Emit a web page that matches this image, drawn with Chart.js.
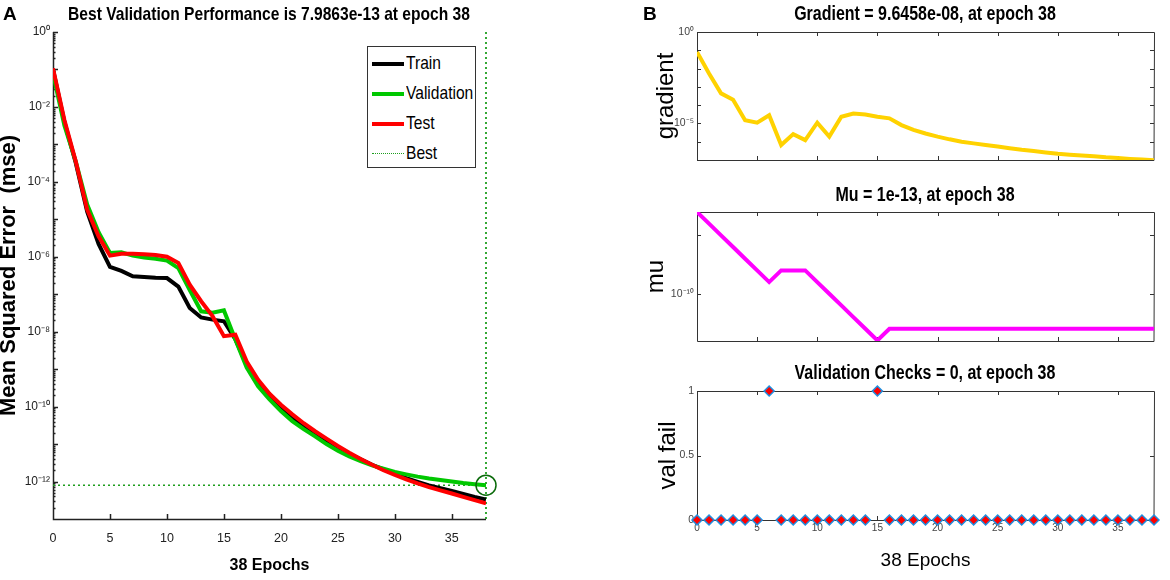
<!DOCTYPE html>
<html>
<head>
<meta charset="utf-8">
<script src="https://cdn.jsdelivr.net/npm/chart.js@4.4.1/dist/chart.umd.min.js"></script>
<style>
  body { margin: 0; background: #fff; }
  #wrap { position: relative; width: 1170px; height: 580px; overflow: hidden; }
  canvas { position: absolute; }
  .tag { position: absolute; font: bold 19px 'Liberation Sans', Arial, sans-serif; color: #000; }
  .ttl { position: absolute; white-space: nowrap; font-family: 'Liberation Sans', Arial, sans-serif; font-weight: bold;
         color: #000; transform: translateX(-50%) scaleX(0.82); }
  #legend { position: absolute; left: 367px; top: 46px; width: 107px; height: 120px;
            border: 1.5px solid #333; background: #fff;
            font: 19px 'Liberation Sans', Arial, sans-serif; color: #000; }
  #legend .item { position: absolute; left: 0; height: 30px; line-height: 30px; white-space: nowrap; }
  #legend .swatch { position: absolute; left: 4px; top: 14px; width: 32px; }
  #legend .label { position: absolute; left: 38px; top: 0; transform: scaleX(0.82); transform-origin: left center; }
</style>
</head>
<body>
<div id="wrap">
  <canvas id="perf" width="560" height="580" style="left:0;top:0"></canvas>
  <canvas id="grad" width="530" height="175" style="left:640px;top:0"></canvas>
  <canvas id="mu" width="530" height="185" style="left:640px;top:175px"></canvas>
  <canvas id="valfail" width="530" height="222" style="left:640px;top:358px"></canvas>
  <div class="tag" style="left:3px;top:3px">A</div>
  <div class="tag" style="left:643px;top:3px">B</div>
  <div class="ttl" style="left:269px;top:2px;font-size:19px;line-height:24px">Best Validation Performance is 7.9863e-13 at epoch 38</div>
  <div class="ttl" style="left:925px;top:1px;font-size:19.5px;line-height:24px">Gradient = 9.6458e-08, at epoch 38</div>
  <div class="ttl" style="left:925px;top:182px;font-size:19.5px;line-height:24px">Mu = 1e-13, at epoch 38</div>
  <div class="ttl" style="left:925px;top:360px;font-size:19.5px;line-height:24px">Validation Checks = 0, at epoch 38</div>
  <div id="legend"></div>
</div>
<script>
// ---- data ----
const epochs = [0,1,2,3,4,5,6,7,8,9,10,11,12,13,14,15,16,17,18,19,20,21,22,23,24,25,26,27,28,29,30,31,32,33,34,35,36,37,38];
const trainMse = [1.0e-1,4.0e-3,3.2e-4,1.6e-5,2.2e-6,5.4e-7,4.2e-7,3.0e-7,2.9e-7,2.75e-7,2.7e-7,1.6e-7,4.3e-8,2.4e-8,2.1e-8,1.9e-8,6.3e-9,1.3e-9,4.3e-10,1.9e-10,9.1e-11,5.0e-11,3.0e-11,1.9e-11,1.23e-11,8.1e-12,5.5e-12,3.9e-12,2.8e-12,2.1e-12,1.6e-12,1.23e-12,9.8e-13,7.9e-13,6.6e-13,5.6e-13,4.7e-13,3.9e-13,3.3e-13];
const validationMse = [7.9e-2,3.2e-3,3.5e-4,2.5e-5,4.5e-6,1.26e-6,1.32e-6,1.07e-6,9.5e-7,8.9e-7,7.9e-7,5.0e-7,1.3e-7,3.5e-8,3.2e-8,3.7e-8,6.2e-9,1.1e-9,3.5e-10,1.55e-10,7.6e-11,4.1e-11,2.5e-11,1.6e-11,1.0e-11,6.6e-12,4.7e-12,3.5e-12,2.7e-12,2.2e-12,1.8e-12,1.55e-12,1.35e-12,1.2e-12,1.1e-12,1.0e-12,9.1e-13,8.5e-13,7.9863e-13];
const testMse = [1.07e-1,4.5e-3,3.5e-4,1.8e-5,3.5e-6,1.07e-6,1.2e-6,1.2e-6,1.17e-6,1.12e-6,1.0e-6,6.8e-7,1.8e-7,6.5e-8,2.6e-8,7.6e-9,8.3e-9,1.6e-9,5.2e-10,2.2e-10,1.12e-10,6.2e-11,3.6e-11,2.2e-11,1.4e-11,8.9e-12,5.9e-12,4.0e-12,2.8e-12,2.0e-12,1.5e-12,1.15e-12,8.9e-13,7.1e-13,5.8e-13,4.8e-13,3.9e-13,3.2e-13,2.6e-13];
const bestEpoch = 38;
const bestPerf = 7.9863e-13;
const gradient = [8.1e-2,5.4e-3,4.4e-4,2.0e-4,1.5e-5,1.1e-5,2.8e-5,6.6e-7,2.6e-6,1.23e-6,1.1e-5,1.9e-6,2.3e-5,3.5e-5,3.1e-5,2.3e-5,1.9e-5,8.1e-6,4.4e-6,2.8e-6,1.9e-6,1.35e-6,1.0e-6,8.1e-7,6.6e-7,5.4e-7,4.4e-7,3.6e-7,3.1e-7,2.6e-7,2.2e-7,1.95e-7,1.75e-7,1.6e-7,1.4e-7,1.3e-7,1.15e-7,1.05e-7,9.6458e-8];
const mu = [1e-3,1e-4,1e-5,1e-6,1e-7,1e-8,1e-9,1e-8,1e-8,1e-8,1e-9,1e-10,1e-11,1e-12,1e-13,1e-14,1e-13,1e-13,1e-13,1e-13,1e-13,1e-13,1e-13,1e-13,1e-13,1e-13,1e-13,1e-13,1e-13,1e-13,1e-13,1e-13,1e-13,1e-13,1e-13,1e-13,1e-13,1e-13,1e-13];
const valFail = [0,0,0,0,0,0,1,0,0,0,0,0,0,0,0,1,0,0,0,0,0,0,0,0,0,0,0,0,0,0,0,0,0,0,0,0,0,0,0];
const epochTicks = [0,5,10,15,20,25,30,35];
const valFailTicks = [0,0.5,1];

const seriesNames = ["Train", "Validation", "Test", "Best"];
const seriesColors = ["#000000", "#00c800", "#ff0000", "#1e9e1e"];

// ---- helpers ----
const SANS = "'Liberation Sans', Arial, sans-serif";
const SUP = {'-':'⁻','0':'⁰','1':'¹','2':'²','3':'³','4':'⁴','5':'⁵','6':'⁶','7':'⁷','8':'⁸','9':'⁹'};
const powLabel = v => '10' + String(Math.round(Math.log10(v))).split('').map(c => SUP[c]).join('');
const pts = ys => epochs.map((e, i) => ({x: e, y: ys[i]}));
const decades = (hi, lo) => { let out = []; for (let k = hi; k >= lo; k--) out.push(Math.pow(10, k)); return out; };
const setTicks = vals => s => { s.ticks = vals.map(v => ({value: v})); };
const fixWidth = w => s => { s.width = w; s.paddingTop = 0; s.paddingBottom = 0; };
const fixHeight = h => s => { s.height = h; s.paddingLeft = 0; s.paddingRight = 0; };
const noGrid = { display: false, drawTicks: false };

// inward matlab-style tick marks and axis box
const matlabAxes = {
  id: 'matlabAxes',
  beforeDatasetsDraw(chart, args, o) {
    const {ctx, chartArea: a, scales: {x, y}} = chart;
    const r = v => Math.round(v) + 0.5;
    ctx.save();
    ctx.strokeStyle = o.color;
    ctx.lineWidth = o.width;
    ctx.beginPath();
    ctx.moveTo(r(a.left), a.top); ctx.lineTo(r(a.left), r(a.bottom)); ctx.lineTo(a.right, r(a.bottom));
    if (o.box) { ctx.lineTo(r(a.right), r(a.top)); ctx.lineTo(r(a.left), r(a.top)); }
    (o.xTicks || []).forEach(v => {
      const px = r(x.getPixelForValue(v));
      ctx.moveTo(px, a.bottom); ctx.lineTo(px, a.bottom - o.len);
      if (o.box) { ctx.moveTo(px, a.top); ctx.lineTo(px, a.top + o.len); }
    });
    (o.yTicks || []).forEach(v => {
      const py = r(y.getPixelForValue(v));
      ctx.moveTo(a.left, py); ctx.lineTo(a.left + o.len, py);
      if (o.box) { ctx.moveTo(a.right, py); ctx.lineTo(a.right - o.len, py); }
    });
    (o.yMinor || []).forEach(v => {
      const py = r(y.getPixelForValue(v));
      ctx.moveTo(a.left, py); ctx.lineTo(a.left + o.minorLen, py);
    });
    ctx.stroke();
    ctx.restore();
  }
};

const baseOpts = {
  responsive: false,
  animation: false,
  events: []
};

// ---- A: performance ----
let perfMinor = [];
decades(-1, -13).forEach(d => { for (let m = 2; m <= 9; m++) perfMinor.push(m * d); });

new Chart("perf", {
  type: "line",
  data: {
    datasets: [
      { data: [{x: bestEpoch, y: bestPerf}], showLine: false, pointRadius: 10, pointStyle: 'circle',
        pointBorderColor: "#0a6a0a", pointBackgroundColor: "rgba(0,0,0,0)", pointBorderWidth: 1.5, clip: false },
      { label: seriesNames[2], data: pts(testMse), borderColor: seriesColors[2], borderWidth: 4, pointRadius: 0 },
      { label: seriesNames[1], data: pts(validationMse), borderColor: seriesColors[1], borderWidth: 4, pointRadius: 0 },
      { label: seriesNames[0], data: pts(trainMse), borderColor: seriesColors[0], borderWidth: 4, pointRadius: 0 },
      { data: [{x: 0, y: bestPerf}, {x: bestEpoch, y: bestPerf}], borderColor: seriesColors[3], borderWidth: 1.5, borderDash: [2, 3], pointRadius: 0 },
      { data: [{x: bestEpoch, y: 1e-13}, {x: bestEpoch, y: 1}], borderColor: seriesColors[3], borderWidth: 1.8, borderDash: [2, 3], pointRadius: 0, clip: false }
    ]
  },
  options: {
    ...baseOpts,
    layout: { padding: { left: 0, right: 74, top: 32, bottom: 1 } },
    plugins: {
      legend: { display: false },
      tooltip: { enabled: false },
      title: { display: false },
      matlabAxes: { color: "#222", width: 1.5, box: false, len: 5, minorLen: 2.5,
                    xTicks: epochTicks.slice(1), yTicks: decades(0, -13), yMinor: perfMinor }
    },
    scales: {
      x: {
        type: 'linear', min: 0, max: 38,
        grid: noGrid, border: { display: false },
        afterBuildTicks: setTicks(epochTicks),
        afterFit: fixHeight(60),
        ticks: { autoSkip: false, maxRotation: 0, padding: 12, color: "#222", font: { family: SANS, size: 12.5 } },
        title: { display: true, text: "38 Epochs", color: "#000", font: { family: SANS, size: 16, weight: 'bold' }, padding: { top: 0, bottom: 4 } }
      },
      y: {
        type: 'logarithmic', min: 1e-13, max: 1,
        grid: noGrid, border: { display: false },
        afterBuildTicks: setTicks(decades(0, -13)),
        afterFit: fixWidth(53),
        ticks: { autoSkip: false, padding: 3, color: "#222", font: { family: SANS, size: 12 },
                 callback: v => (Math.round(Math.log10(v)) % 2 === 0 ? powLabel(v) : '') },
        title: { display: true, text: "Mean Squared Error  (mse)", color: "#000",
                 font: { family: SANS, size: 22, weight: 'bold', lineHeight: 0.85 }, padding: { top: 0, bottom: 0 } }
      }
    }
  },
  plugins: [matlabAxes]
});

// legend built from the series names/colours
const legendEl = document.getElementById("legend");
seriesNames.forEach((name, i) => {
  const line = i < 3 ? `border-top:4px solid ${seriesColors[i]}` : `border-top:1.5px dotted ${seriesColors[i]};top:15px`;
  legendEl.innerHTML += `<div class="item" style="top:${1 + i * 30}px;width:100%">
    <span class="swatch" style="${line}"></span><span class="label">${name}</span></div>`;
});

// ---- B: training state ----
function stateChart(id, opts) {
  return new Chart(id, {
    type: "line",
    data: { datasets: [opts.dataset] },
    options: {
      ...baseOpts,
      layout: { padding: { left: 0, right: 16, top: opts.top, bottom: 0 } },
      plugins: {
        legend: { display: false },
        tooltip: { enabled: false },
        title: { display: false },
        matlabAxes: { color: "#333", width: 1, box: true, len: 4, xTicks: epochTicks.slice(1), yTicks: opts.yTicks }
      },
      scales: {
        x: {
          type: 'linear', min: 0, max: 38,
          grid: noGrid, border: { display: false },
          afterBuildTicks: setTicks(epochTicks),
          afterFit: fixHeight(opts.xHeight),
          ticks: { display: opts.xLabels, autoSkip: false, maxRotation: 0, padding: 2, color: "#444", font: { family: SANS, size: 10 } },
          title: { display: opts.xLabels, text: "38 Epochs", color: "#000", font: { family: SANS, size: 19 }, padding: { top: 0, bottom: 8 } }
        },
        y: {
          type: opts.yType, min: opts.yMin, max: opts.yMax,
          grid: noGrid, border: { display: false },
          afterBuildTicks: setTicks(opts.yTicks.concat(opts.yExtra || [])),
          afterFit: fixWidth(57),
          ticks: { autoSkip: false, padding: 3, color: "#444", font: { family: SANS, size: 10.5 }, callback: opts.yLabel },
          title: { display: true, text: opts.yTitle, color: "#000",
                   font: { family: SANS, size: 24, lineHeight: 1 }, padding: { top: opts.yTitlePad, bottom: 0 } }
        }
      }
    },
    plugins: [matlabAxes]
  });
}

stateChart("grad", {
  top: 32,
  dataset: { data: pts(gradient), borderColor: "#ffd200", borderWidth: 4, pointRadius: 0 },
  xHeight: 15, xLabels: false,
  yType: 'logarithmic', yMin: 1e-7, yMax: 1,
  yTicks: decades(0, -7),
  yLabel: v => { const k = Math.round(Math.log10(v)); return (k === 0 || k === -5) ? powLabel(v) : ''; },
  yTitle: "gradient", yTitlePad: 14
});

stateChart("mu", {
  top: 37,
  dataset: { data: pts(mu), borderColor: "#ff00ff", borderWidth: 4, pointRadius: 0 },
  xHeight: 19, xLabels: false,
  yType: 'logarithmic', yMin: 9e-15, yMax: 1e-3,
  yTicks: [1e-5, 1e-10],
  yLabel: v => (Math.round(Math.log10(v)) === -10 ? powLabel(v) : ''),
  yTitle: "mu", yTitlePad: 4
});

stateChart("valfail", {
  top: 33,
  dataset: { data: pts(valFail), showLine: false, pointStyle: 'rectRot', pointRadius: 5,
             pointBackgroundColor: "#ff0000", pointBorderColor: "#1f8fe0", pointBorderWidth: 1.5, clip: false },
  xHeight: 60, xLabels: true,
  yType: 'linear', yMin: 0, yMax: 1,
  yTicks: [0.5], yExtra: [0, 1],
  yLabel: v => String(v),
  yTitle: "val fail", yTitlePad: 16
});
</script>
</body>
</html>
